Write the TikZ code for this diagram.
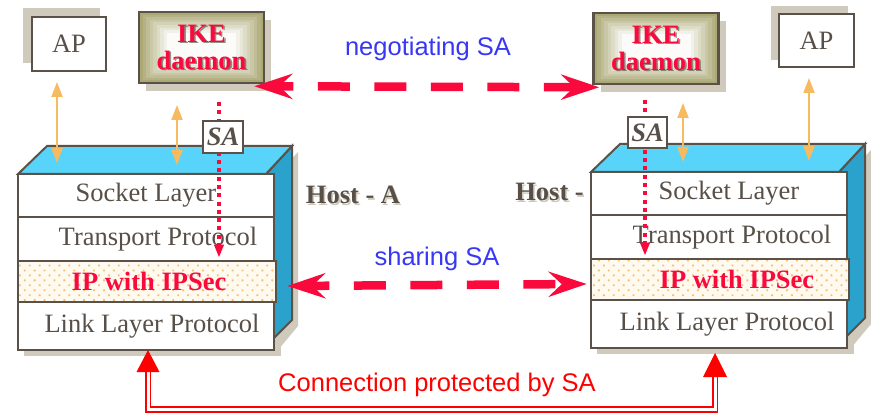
\documentclass[tikz,border=0pt]{standalone}
\usepackage{fontspec}
\setmainfont{Liberation Serif}
\setsansfont{Liberation Sans}
\usetikzlibrary{arrows.meta,calc,patterns.meta}

\definecolor{edgec}{RGB}{90,82,72}
\definecolor{textc}{RGB}{88,80,72}
\definecolor{shadowc}{RGB}{208,202,188}
\definecolor{topc}{RGB}{88,212,250}
\definecolor{sidec}{RGB}{42,162,203}
\definecolor{oranc}{RGB}{246,186,96}
\definecolor{sared}{RGB}{250,10,60}
\definecolor{bluec}{RGB}{55,55,245}
\definecolor{connred}{RGB}{255,0,0}
\definecolor{ipdot}{RGB}{247,190,110}
\definecolor{ipbg}{RGB}{255,250,240}
\definecolor{olivec}{RGB}{170,168,115}
\definecolor{darkshadow}{RGB}{60,54,46}

\newcommand\bigserif{\fontsize{26.5}{27}\selectfont}
\newcommand\bigsans{\sffamily\fontsize{25.5}{30}\selectfont}

\tikzset{
  edge/.style={draw=edgec, line width=2pt},
  sideface/.style={edge, fill=sidec},
  topface/.style={edge, fill=topc},
  layer/.style={draw=edgec, line width=2pt, fill=white, minimum width=256pt,
    inner sep=0pt, text=textc, font=\bigserif},
  iplayer/.style={layer, line width=2.5pt, minimum width=258pt,
    preaction={fill=ipbg}, pattern={Dots[distance=7pt, radius=1.3pt, angle=45]},
    pattern color=ipdot, text=sared, font=\bigserif\bfseries},
  apbox/.style={draw=edgec, line width=2.5pt, fill=white, inner sep=0pt,
    text=textc, font=\bigserif},
  ikeframe/.style={draw=edgec, line width=2.5pt, minimum width=125pt,
    minimum height=71pt, inner sep=0pt},
  iketext/.style={align=center, text=sared, font=\bigserif\bfseries, inner sep=0pt},
  hostlabel/.style={text=textc, font=\bigserif\bfseries, inner sep=0pt},
  sabox/.style={draw=edgec, line width=1.5pt, fill=white, inner sep=0pt,
    minimum width=40pt, minimum height=32pt, text=textc,
    font=\bigserif\bfseries\itshape},
  oarrow/.style={draw=oranc, line width=2.2pt,
    {Triangle[width=11pt,length=15pt]}-{Triangle[width=11pt,length=15pt]}},
  dotline/.style={draw=sared, line width=4pt, dash pattern=on 4pt off 4.3pt,
    -{Triangle[width=9pt,length=13pt]}},
  sadash/.style={draw=sared, line width=8.5pt, dash pattern=on 32pt off 24.5pt,
    {Stealth[length=38pt,width=25pt,inset=13pt]}-{Stealth[length=38pt,width=25pt,inset=13pt]}},
  salabel/.style={text=bluec, font=\bigsans, inner sep=0pt},
  dbl/.style={draw=connred, line width=1.7pt, double=white, double distance=3pt},
}

% one protocol stack drawn as a box with depth; #1,#2 shift, #3 name suffix,
% #4..#7 indents of the four layer captions
\newcommand\hoststack[7]{%
\begin{scope}[shift={(#1,#2)}]
  \fill[shadowc] (24,180) rectangle (281,356);
  \fill[shadowc] (272,180) -- (298,152) -- (298,326) -- (278,350) -- cycle;
  \filldraw[sideface] (266,174) -- (292,146) -- (292,320) -- (266,346) -- cycle;
  \filldraw[topface] (18,174) -- (47,146) -- (292,146) -- (266,174) -- cycle;
  \node[layer, minimum height=43pt] (sock#3) at (146,195.5) {\hspace*{#4}Socket Layer};
  \node[layer, minimum height=44pt] (trans#3) at (146,239) {\hspace*{#5}Transport Protocol};
  \node[layer, minimum height=48pt] (link#3) at (146,326) {\hspace*{#7}Link Layer Protocol};
  \node[iplayer, minimum height=41pt] (ip#3) at (147,281.5) {\hspace*{#6}IP with IPSec};
\end{scope}}

% IKE daemon box with stepped glow; #1 name, #2,#3 centre
\newcommand\ikebox[3]{%
\begin{scope}[shift={(#2,#3)}]
  \fill[shadowc] (-55.5,-27.5) rectangle (69.5,43.5);
  \foreach \i in {0,...,8}{
    \pgfmathtruncatemacro\mixval{100-12*\i}
    \fill[olivec!\mixval!white] (-62.5+3.5*\i,-35.5+2.6*\i) rectangle (62.5-3.5*\i,35.5-2.6*\i);
  }
  \node[ikeframe] (#1) at (0,0) {};
  \node[iketext, text=darkshadow, opacity=.55] (#1shade) at (1.6,1.2) {IKE\\daemon};
  \node[iketext] (#1text) at (0,-0.5) {IKE\\daemon};
\end{scope}}

\begin{document}
\begin{tikzpicture}[x=1pt,y=-1pt]
\useasboundingbox (0,0) rectangle (871,414);

% application processes
\fill[shadowc] (23,8) rectangle (100,63);
\node[apbox, minimum width=74pt, minimum height=54pt] (apA) at (69,44) {AP};
\fill[shadowc] (771,6) rectangle (848,60);
\node[apbox, minimum width=75pt, minimum height=53pt] (apB) at (816.5,40.5) {AP};

% key exchange daemons
\ikebox{ikeA}{201.5}{47.5}
\ikebox{ikeB}{656}{48.5}

% protocol stacks
\hoststack{0}{0}{A}{0pt}{24pt}{4pt}{12pt}
\hoststack{573}{-2}{B}{20pt}{26pt}{34pt}{16pt}

% host captions with a soft drop shadow
\node[hostlabel, text=shadowc] (hostAshade) at (354.5,196.5) {Host - A};
\node[hostlabel] (hostA) at (353,195) {Host - A};
\node[hostlabel, text=shadowc, anchor=east] (hostBshade) at (585.5,193.5) {Host -};
\node[hostlabel, anchor=east] (hostB) at (584,192) {Host -};

% application / daemon access to the stacks
\coordinate (oa1) at (57,82);   \coordinate (ob1) at (57,163);
\coordinate (oa2) at (177,105); \coordinate (ob2) at (177,165);
\coordinate (oa3) at (683,103); \coordinate (ob3) at (683,162);
\coordinate (oa4) at (809,78);  \coordinate (ob4) at (809,161);
\draw[oarrow] (oa1) -- (ob1);
\draw[oarrow] (oa2) -- (ob2);
\draw[oarrow] (oa3) -- (ob3);
\draw[oarrow] (oa4) -- (ob4);

% SA handed down from the daemons to the IP layer
\coordinate (dA) at (219,102);
\coordinate (dB) at (645,100);
\draw[dotline] (dA) -- ($(dA |- ipA.north)+(0,-2)$);
\draw[dotline] (dB) -- ($(dB |- ipB.north)+(0,-2)$);
\node[sabox] (saA) at (223,137) {SA};
\node[sabox, minimum width=39pt, minimum height=31pt] (saB) at (647.5,132.5) {SA};

% SA negotiation between daemons
\draw[sadash, dash phase=15pt] ($(ikeA.south east)+(-11,2)$) -- ($(ikeB.south west)+(7,2)$);
\node[salabel] (neg) at (428,49) {negotiating SA};

% SA shared between IP layers
\draw[sadash, dash phase=12pt] ($(ipA.east)+(10,4.5)$) -- ($(ipB.west)+(-3,4.5)$);
\node[salabel] (share) at (437,259) {sharing SA};

% protected connection between link layers
\coordinate (tipA) at (148,350);
\coordinate (tipB) at (715,353);
\coordinate (botLine) at (430,409.5);
\draw[dbl] ($(tipA)+(0,20)$) -- (tipA |- botLine) -- (tipB |- botLine) -- ($(tipB)+(0,22)$);
\fill[connred] (tipA) -- ++(-11.5,22) -- ++(23,0) -- cycle;
\fill[connred] (tipB) -- ++(-12,24) -- ++(24,0) -- cycle;
\node[text=connred, font=\bigsans, inner sep=0pt] (conn) at (437,385) {Connection protected by SA};
\end{tikzpicture}
\end{document}
